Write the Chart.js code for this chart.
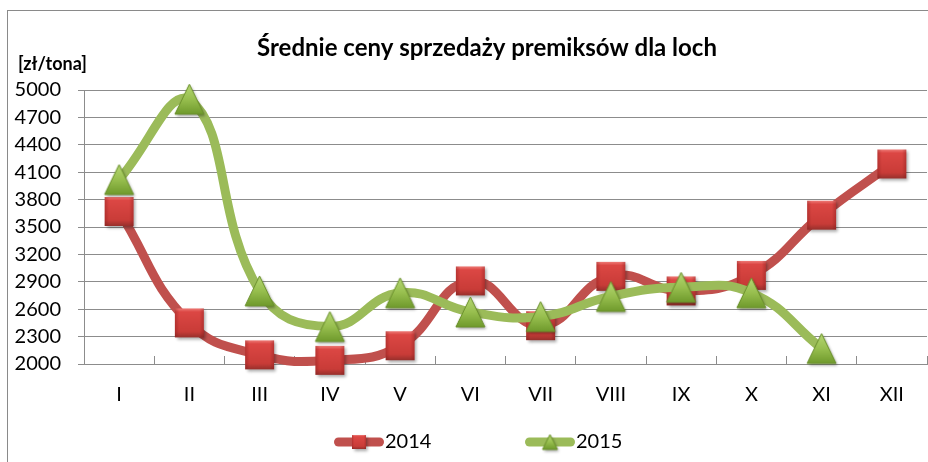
<!DOCTYPE html>
<html>
<head>
<meta charset="utf-8">
<script src="https://cdn.jsdelivr.net/npm/chart.js@4.4.1/dist/chart.umd.min.js"></script>
<style>
  html, body { margin: 0; padding: 0; background: #fff; overflow: hidden; }
  #frame { position: absolute; left: 7px; top: 10px; width: 1000px; height: 1000px; border: 1px solid #8a8a8a; box-sizing: border-box; }
  #wrap { position: absolute; left: 0; top: 0; width: 928px; height: 462px; }
</style>
</head>
<body>
<div id="frame"></div>
<div id="wrap"><canvas id="c" width="928" height="462"></canvas></div>
<script>
const categories = ['I', 'II', 'III', 'IV', 'V', 'VI', 'VII', 'VIII', 'IX', 'X', 'XI', 'XII'];
const values2014 = [3670, 2450, 2100, 2040, 2200, 2910, 2420, 2960, 2800, 2970, 3630, 4190];
const values2015 = [4020, 4900, 2800, 2410, 2780, 2570, 2520, 2740, 2840, 2780, 2170, null];
const seriesLabels = ['2014', '2015'];
const yMin = 2000, yMax = 5000, yStep = 300;
const chartTitle = 'Średnie ceny sprzedaży premiksów dla loch';
const unitLabel = '[zł/tona]';

const RED = '#c0504d', GREEN = '#9bbb59';
const FONT = 'Lato';

function squareMarker(size) {
  const pad = 6, full = size + pad * 2;
  const c = document.createElement('canvas');
  c.width = full; c.height = full;
  const ctx = c.getContext('2d');
  ctx.save();
  ctx.shadowColor = 'rgba(0,0,0,0.35)'; ctx.shadowBlur = 3; ctx.shadowOffsetX = 1.5; ctx.shadowOffsetY = 2;
  ctx.fillStyle = '#b03a36';
  ctx.fillRect(pad, pad, size, size);
  ctx.restore();
  const g = ctx.createLinearGradient(0, pad, 0, pad + size);
  g.addColorStop(0, '#ee7a76'); g.addColorStop(0.12, '#dc4744'); g.addColorStop(0.8, '#c93c38'); g.addColorStop(1, '#97302c');
  ctx.fillStyle = g; ctx.fillRect(pad, pad, size, size);
  const gs = ctx.createLinearGradient(pad, 0, pad + size, 0);
  gs.addColorStop(0, 'rgba(120,20,20,0.35)'); gs.addColorStop(0.15, 'rgba(120,20,20,0)');
  gs.addColorStop(0.85, 'rgba(120,20,20,0)'); gs.addColorStop(1, 'rgba(120,20,20,0.35)');
  ctx.fillStyle = gs; ctx.fillRect(pad, pad, size, size);
  return c;
}

function triangleMarker(w, h) {
  const pad = 6;
  const c = document.createElement('canvas');
  c.width = Math.ceil(w + pad * 2); c.height = Math.ceil(h + pad * 2);
  const ctx = c.getContext('2d');
  const cx = c.width / 2, cy = c.height / 2;
  const path = () => { ctx.beginPath(); ctx.moveTo(cx, cy - h / 2); ctx.lineTo(cx + w / 2, cy + h / 2); ctx.lineTo(cx - w / 2, cy + h / 2); ctx.closePath(); };
  ctx.save();
  ctx.shadowColor = 'rgba(0,0,0,0.35)'; ctx.shadowBlur = 3; ctx.shadowOffsetX = 1.5; ctx.shadowOffsetY = 2;
  path(); ctx.fillStyle = '#7fa33a'; ctx.fill();
  ctx.restore();
  const g = ctx.createLinearGradient(0, cy - h / 2, 0, cy + h / 2);
  g.addColorStop(0, '#b6d874'); g.addColorStop(0.5, '#98bf4f'); g.addColorStop(1, '#6f9a2c');
  path(); ctx.fillStyle = g; ctx.fill();
  ctx.lineWidth = 1; ctx.strokeStyle = '#6a8f2c'; ctx.stroke();
  return c;
}

const redSq = squareMarker(29);
const greenTri = triangleMarker(29, 30);
const redSqSmall = squareMarker(14);
const greenTriSmall = triangleMarker(15, 15);

const extrasPlugin = {
  id: 'extras',
  afterDraw(chart) {
    const ctx = chart.ctx;
    ctx.save();
    // title
    ctx.font = 'bold 24px ' + FONT;
    ctx.fillStyle = '#000';
    ctx.textBaseline = 'middle';
    ctx.textAlign = 'center';
    ctx.fillText(chartTitle, 487, 48);
    // unit label
    ctx.font = 'bold 18px ' + FONT;
    ctx.textAlign = 'left';
    ctx.fillText(unitLabel, 18, 64);
    // legend
    const items = [
      { x: 334, color: RED, marker: redSqSmall, label: chart.data.datasets[0].label },
      { x: 525, color: GREEN, marker: greenTriSmall, label: chart.data.datasets[1].label }
    ];
    const ly = 442;
    items.forEach(it => {
      ctx.lineCap = 'round';
      ctx.lineWidth = 9;
      ctx.strokeStyle = it.color;
      ctx.beginPath(); ctx.moveTo(it.x + 4.5, ly); ctx.lineTo(it.x + 45.5, ly); ctx.stroke();
      ctx.drawImage(it.marker, it.x + 25 - it.marker.width / 2, ly - it.marker.height / 2);
      ctx.font = '20px ' + FONT;
      ctx.fillStyle = '#000';
      ctx.textBaseline = 'middle';
      ctx.textAlign = 'left';
      ctx.fillText(it.label, it.x + 51, ly);
    });
    ctx.restore();
  }
};

new Chart(document.getElementById('c'), {
  type: 'line',
  data: {
    labels: categories,
    datasets: [
      {
        label: seriesLabels[0], data: values2014, order: 1,
        borderColor: RED, backgroundColor: RED, borderWidth: 9,
        pointBorderWidth: 0, tension: 0.45, pointStyle: redSq, pointRadius: 15, clip: false, fill: false
      },
      {
        label: seriesLabels[1], data: values2015, order: 0,
        borderColor: GREEN, backgroundColor: GREEN, borderWidth: 9,
        pointBorderWidth: 0, tension: 0.45, pointStyle: greenTri, pointRadius: 15, clip: false, fill: false
      }
    ]
  },
  options: {
    responsive: false,
    animation: false,
    devicePixelRatio: 1,
    layout: { autoPadding: false, padding: { left: 10, right: 1, top: 90, bottom: 58 } },
    plugins: {
      legend: { display: false },
      tooltip: { enabled: false },
      title: { display: false }
    },
    scales: {
      x: {
        type: 'category', offset: true,
        grid: { offset: true, drawOnChartArea: false, tickLength: -8, color: '#8c8c8c' },
        border: { color: '#8c8c8c' },
        ticks: { color: '#000', font: { family: FONT, size: 20 }, padding: 27, maxRotation: 0, autoSkip: false },
        afterFit(scale) { scale.height = 40; scale.paddingLeft = 0; scale.paddingRight = 0; }
      },
      y: {
        type: 'linear', min: yMin, max: yMax,
        grid: { color: '#8c8c8c', tickLength: 6 },
        border: { color: '#8c8c8c' },
        ticks: { stepSize: yStep, color: '#000', font: { family: FONT, size: 20 }, padding: 17, callback: v => String(v) },
        afterFit(scale) { scale.width = 74; }
      }
    }
  },
  plugins: [extrasPlugin]
});
</script>
</body>
</html>
